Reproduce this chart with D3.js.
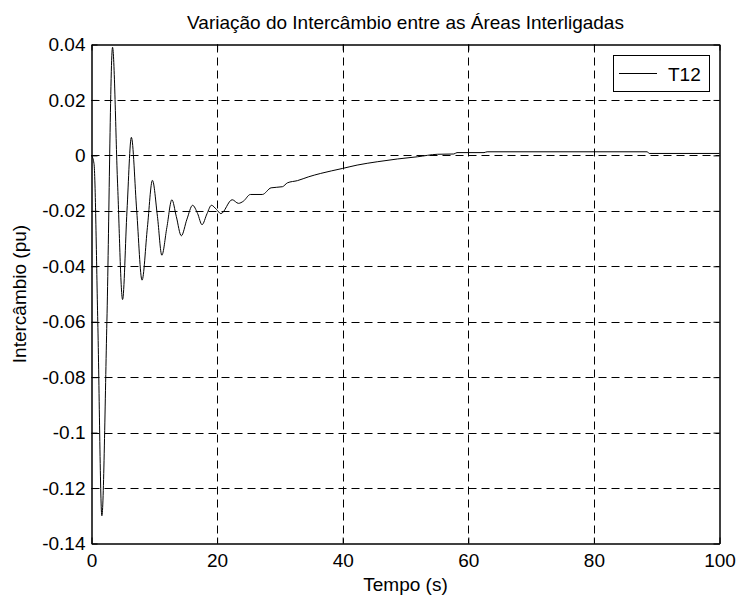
<!DOCTYPE html>
<html><head><meta charset="utf-8">
<script src="https://cdn.jsdelivr.net/npm/d3@7"></script>
<style>body{margin:0;background:#fff}svg{display:block}text{font-family:"Liberation Sans",Arial,sans-serif;fill:#000}</style>
</head><body><svg id="c" width="738" height="599"></svg>
<script>
const title = "Variação do Intercâmbio entre as Áreas Interligadas";
const xLabel = "Tempo (s)";
const yLabel = "Intercâmbio (pu)";
const seriesName = "T12";
const xTicks = [0, 20, 40, 60, 80, 100];
const yTicks = [0.04, 0.02, 0, -0.02, -0.04, -0.06, -0.08, -0.1, -0.12, -0.14];
const time = [0, 0.4, 1.0, 1.65, 2.45, 3.35, 4.15, 4.95, 5.65, 6.35, 7.2, 8.05, 8.9, 9.7, 10.5, 11.2, 12.0, 12.8, 13.5, 14.3, 15.2, 16.1, 16.9, 17.6, 18.4, 19.1, 19.9, 20.6, 22.4, 23.4, 24.2, 25.3, 27.2, 28.6, 30.4, 31.2, 32.8, 34.6, 36.5, 40, 42.3, 45.5, 48.7, 51.9, 55.1, 57.7, 58.2, 62.5, 63, 88.5, 88.8, 100];
const t12  = [0, -0.003, -0.06, -0.13, -0.06, 0.039, -0.01, -0.052, -0.02, 0.0065, -0.02, -0.045, -0.026, -0.009, -0.022, -0.036, -0.026, -0.016, -0.022, -0.029, -0.023, -0.018, -0.021, -0.025, -0.021, -0.018, -0.0195, -0.021, -0.016, -0.0173, -0.0165, -0.0141, -0.0141, -0.0117, -0.0113, -0.0099, -0.0091, -0.0077, -0.0065, -0.0047, -0.0035, -0.0023, -0.0013, -0.0005, 0.0004, 0.0005, 0.001, 0.001, 0.0013, 0.0013, 0.0007, 0.0007];

const FS = 19;
const svg = d3.select("#c");
const L = 91.5, R = 719.5, T = 44.5, B = 543.5;
const x = d3.scaleLinear().domain([0, 100]).range([L, R]);
const y = d3.scaleLinear().domain([-0.14, 0.04]).range([B, T]);
const fmt = d => d === 0 ? "0" : String(+d.toFixed(2));

// grid
const g = svg.append("g");
g.selectAll("line.gx").data(xTicks.slice(1, -1)).join("line")
  .attr("x1", d => Math.round(x(d)) + 0.5).attr("x2", d => Math.round(x(d)) + 0.5)
  .attr("y1", T).attr("y2", B).attr("stroke", "#000").attr("stroke-width", 1).attr("stroke-dasharray", "8,5");
g.selectAll("line.gy").data(yTicks.slice(1, -1)).join("line")
  .attr("y1", d => Math.round(y(d)) + 0.5).attr("y2", d => Math.round(y(d)) + 0.5)
  .attr("x1", L).attr("x2", R).attr("stroke", "#000").attr("stroke-width", 1).attr("stroke-dasharray", "8,5");

// axes (inner ticks)
const ax = svg.append("g");
ax.append("g").attr("transform", `translate(0,${B})`).call(d3.axisBottom(x).tickValues(xTicks).tickFormat(fmt).tickSizeInner(-6).tickSizeOuter(0).tickPadding(10));
ax.append("g").attr("transform", `translate(0,${T})`).call(d3.axisTop(x).tickValues(xTicks).tickFormat("").tickSizeInner(-6).tickSizeOuter(0));
ax.append("g").attr("transform", `translate(${L},0)`).call(d3.axisLeft(y).tickValues(yTicks).tickFormat(fmt).tickSizeInner(-6).tickSizeOuter(0).tickPadding(6));
ax.append("g").attr("transform", `translate(${R},0)`).call(d3.axisRight(y).tickValues(yTicks).tickFormat("").tickSizeInner(-6).tickSizeOuter(0));
ax.selectAll(".domain").attr("stroke", "#000").attr("stroke-width", 1.5);
ax.selectAll(".tick line").attr("stroke", "#000");
ax.selectAll(".tick text").attr("font-size", FS).attr("font-family", "Liberation Sans, Arial, sans-serif").attr("fill", "#000");

// line
const line = d3.line().x((d, i) => x(time[i])).y(d => y(d)).curve(d3.curveMonotoneX);
svg.append("path").attr("d", line(t12)).attr("fill", "none").attr("stroke", "#000").attr("stroke-width", 1);

// legend
const lg = svg.append("g");
lg.append("rect").attr("x", 613.5).attr("y", 55.5).attr("width", 96).attr("height", 36).attr("fill", "#fff").attr("stroke", "#000").attr("stroke-width", 1);
lg.append("line").attr("x1", 619).attr("x2", 657).attr("y1", 73.5).attr("y2", 73.5).attr("stroke", "#000");
lg.append("text").attr("x", 668).attr("y", 80.5).attr("font-size", FS).text(seriesName);

// labels
svg.append("text").attr("x", (L + R) / 2).attr("y", 29).attr("text-anchor", "middle").attr("font-size", FS).text(title);
svg.append("text").attr("x", (L + R) / 2).attr("y", 591).attr("text-anchor", "middle").attr("font-size", FS).text(xLabel);
svg.append("text").attr("transform", `translate(26,${(T + B) / 2}) rotate(-90)`).attr("text-anchor", "middle").attr("font-size", FS).text(yLabel);
</script></body></html>
